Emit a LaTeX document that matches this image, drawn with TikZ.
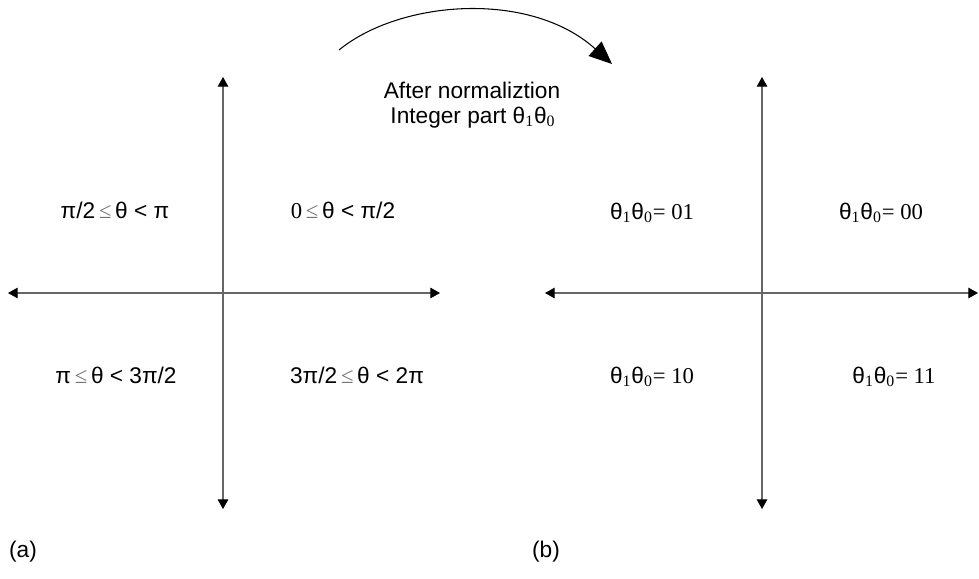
\documentclass[tikz,border=0pt]{standalone}
\usepackage{fontspec}
\setmainfont{Liberation Sans}
\newfontfamily\tmsfont{Liberation Serif}
\usetikzlibrary{arrows.meta}

\newcommand{\lesym}{{\tmsfont\color{black!55}≤}}
\newcommand{\thpair}{θ\textsubscript{\tmsfont 1}θ\textsubscript{\tmsfont 0}}
\newcommand{\thval}[1]{\thpair{\tmsfont = #1}}

\tikzset{
  axis/.style={draw=black!60, line width=0.6pt, {Triangle[length=5.5pt,width=6pt,black]}-{Triangle[length=5.5pt,width=6pt,black]}},
  lbl/.style={anchor=base, inner sep=0pt, font=\fontsize{12.9}{15}\selectfont},
}

\begin{document}
\begin{tikzpicture}[x=0.02cm, y=-0.02cm]
    \useasboundingbox (0,0) rectangle (979,578);
    % axes (a)
    \coordinate (aT) at (223,77);
    \coordinate (aB) at (223,509);
    \coordinate (aL) at (8,293);
    \coordinate (aR) at (440,293);
    \draw[axis] (aB) -- (aT);
    \draw[axis] (aL) -- (aR);
    % axes (b)
    \coordinate (bT) at (762,77);
    \coordinate (bB) at (762,509);
    \coordinate (bL) at (545,293);
    \coordinate (bR) at (978,293);
    \draw[axis] (bB) -- (bT);
    \draw[axis] (bL) -- (bR);
    % arrow from (a) to (b)
    \coordinate (arcS) at (339,50);
    \coordinate (arcE) at (612,64);
    \draw[line width=0.6pt, -{Triangle[length=13pt,width=11pt]}] (arcS) .. controls (400,0) and (530,-10) .. (arcE);
    \node[lbl] (norm) at (472,98) {After normaliztion};
    \node[lbl] (intp) at (473,123) {Integer part \thpair};
    % ranges (a)
    \node[lbl] (q2) at (115,218) {π/2\,\lesym\,θ < π};
    \node[lbl] (q1) at (343,218) {{\tmsfont 0}\,\lesym\,θ < π/2};
    \node[lbl] (q3) at (116,383) {π\,\lesym\,θ < 3π/2};
    \node[lbl] (q4) at (357,383) {3π/2\,\lesym\,θ < 2π};
    % codes (b)
    \node[lbl] (c01) at (652,219) {\thval{01}};
    \node[lbl] (c00) at (881,219) {\thval{00}};
    \node[lbl] (c10) at (652,383) {\thval{10}};
    \node[lbl] (c11) at (894,383) {\thval{11}};
    \node[lbl] (capa) at (23,557) {(a)};
    \node[lbl] (capb) at (546,557) {(b)};
\end{tikzpicture}
\end{document}
